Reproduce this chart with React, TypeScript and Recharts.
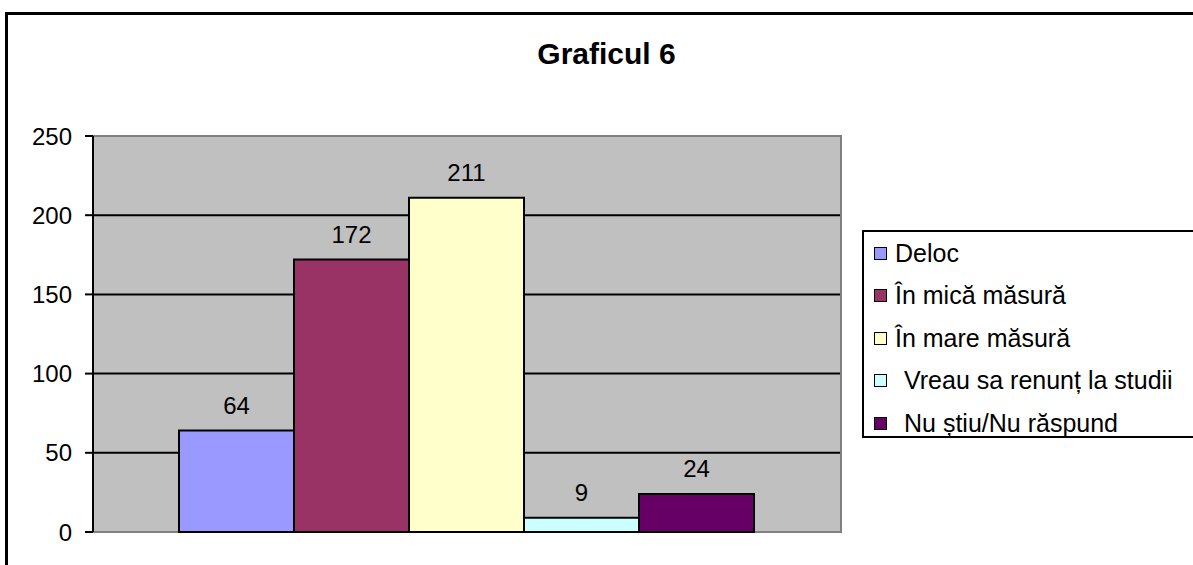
import React from 'react';
import { BarChart, Bar, XAxis, YAxis, CartesianGrid, LabelList, ReferenceArea } from 'recharts';

const categories = ['Graficul 6'];
const seriesNames = [
  'Deloc',
  'În mică măsură',
  'În mare măsură',
  'Vreau sa renunț la studii',
  'Nu știu/Nu răspund',
];
const seriesValues = [64, 172, 211, 9, 24];
const seriesColors = ['#9999FF', '#993366', '#FFFFCC', '#CCFFFF', '#660066'];
const yTicks = [0, 50, 100, 150, 200, 250];

const FONT = '"Liberation Sans", Arial, sans-serif';

const chartData = categories.map((name) => {
  const row: Record<string, string | number> = { name };
  seriesNames.forEach((s, i) => {
    row[`s${i}`] = seriesValues[i];
  });
  return row;
});

// legend box runs off the right edge of the picture, like the original
const LegendBox = () => (
  <div
    style={{
      position: 'absolute',
      left: 862,
      top: 230,
      width: 331,
      height: 208,
      borderTop: '2px solid #000',
      borderLeft: '2px solid #000',
      borderBottom: '2px solid #000',
      background: '#fff',
      boxSizing: 'border-box',
      fontFamily: FONT,
      fontSize: 25,
      whiteSpace: 'nowrap',
      overflow: 'hidden',
    }}
  >
    {seriesNames.map((name, i) => (
      <div key={name} style={{ display: 'flex', alignItems: 'center', height: 42.5, paddingLeft: 10 }}>
        <span
          style={{
            display: 'inline-block',
            flexShrink: 0,
            width: 11,
            height: 11,
            background: seriesColors[i],
            border: '1.5px solid #000',
            marginRight: i >= 3 ? 17 : 8,
          }}
        />
        <span>{name}</span>
      </div>
    ))}
  </div>
);

export default function App() {
  return (
    <div
      style={{
        position: 'absolute',
        left: 0,
        top: 0,
        width: 1193,
        height: 565,
        overflow: 'hidden',
        background: '#fff',
        fontFamily: FONT,
      }}
    >
      <div
        style={{
          position: 'absolute',
          left: 5,
          top: 12,
          width: 1300,
          height: 700,
          border: '3px solid #000',
          boxSizing: 'border-box',
        }}
      />
      <div
        style={{
          position: 'absolute',
          left: 0,
          width: 1213,
          top: 37,
          textAlign: 'center',
          fontWeight: 'bold',
          fontSize: 30,
        }}
      >
        Graficul 6
      </div>
      <div style={{ position: 'absolute', left: 0, top: 0 }}>
        <BarChart
          width={1193}
          height={565}
          data={chartData}
          margin={{ top: 136, right: 352, bottom: 33, left: 13 }}
          barCategoryGap={86}
          barGap={0}
        >
          <CartesianGrid vertical={false} stroke="#000" strokeWidth={2} fill="#C0C0C0" fillOpacity={1} />
          <ReferenceArea y1={0} y2={250} fill="none" stroke="#808080" strokeWidth={2} />
          <XAxis dataKey="name" hide />
          <YAxis
            domain={[0, 250]}
            ticks={yTicks}
            width={80}
            tick={{ fontSize: 24, fill: '#000', fontFamily: FONT }}
            axisLine={{ stroke: '#000', strokeWidth: 2 }}
            tickLine={{ stroke: '#000', strokeWidth: 2 }}
            tickSize={8}
            tickMargin={13}
          />
          {seriesNames.map((name, i) => (
            <Bar
              key={name}
              dataKey={`s${i}`}
              name={name}
              fill={seriesColors[i]}
              stroke="#000"
              strokeWidth={2}
              isAnimationActive={false}
            >
              <LabelList
                dataKey={`s${i}`}
                position="top"
                offset={17}
                style={{ fontSize: 24, fill: '#000', fontFamily: FONT }}
              />
            </Bar>
          ))}
        </BarChart>
      </div>
      <LegendBox />
    </div>
  );
}
